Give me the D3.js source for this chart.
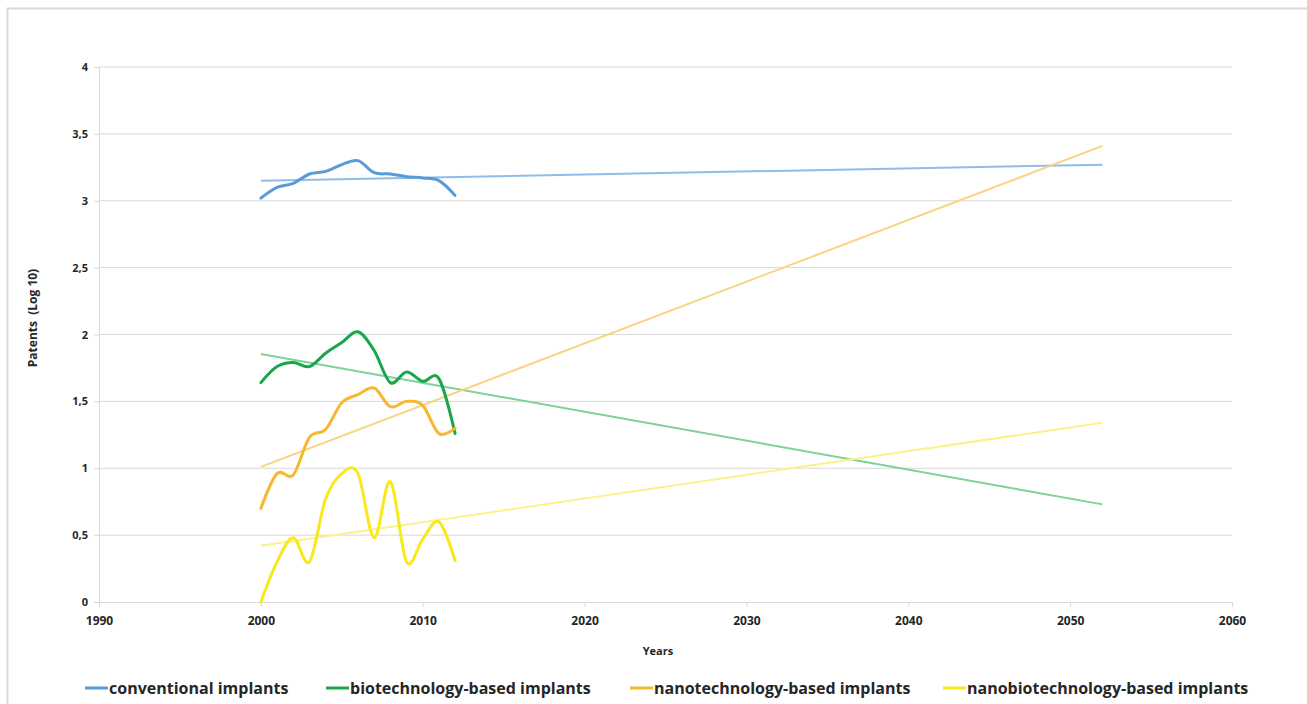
<!DOCTYPE html>
<html>
<head>
<meta charset="utf-8">
<script src="https://cdn.jsdelivr.net/npm/d3@7"></script>
<style>
  body { margin: 0; background: #fff; }
  text { font-family: "Open Sans", Lato, sans-serif; font-weight: bold; fill: #262626; }
</style>
</head>
<body>
<div id="chart"></div>
<script>
const years = [2000, 2001, 2002, 2003, 2004, 2005, 2006, 2007, 2008, 2009, 2010, 2011, 2012];
const conventional = [3.02, 3.10, 3.13, 3.20, 3.22, 3.27, 3.30, 3.21, 3.20, 3.18, 3.17, 3.15, 3.04];
const biotech = [1.64, 1.76, 1.79, 1.76, 1.86, 1.94, 2.02, 1.88, 1.64, 1.72, 1.65, 1.67, 1.26];
const nanotech = [0.70, 0.96, 0.95, 1.23, 1.29, 1.49, 1.55, 1.60, 1.46, 1.50, 1.47, 1.26, 1.30];
const nanobiotech = [0.00, 0.30, 0.48, 0.30, 0.77, 0.96, 0.96, 0.48, 0.90, 0.30, 0.47, 0.60, 0.31];
const trendYears = [2000, 2052];
const trendConventional = [3.15, 3.27];
const trendBiotech = [1.855, 0.73];
const trendNanotech = [1.01, 3.41];
const trendNanobiotech = [0.42, 1.34];
const seriesNames = ['conventional implants', 'biotechnology-based implants', 'nanotechnology-based implants', 'nanobiotechnology-based implants'];
const colors = ['#5b9bd5', '#1aa64a', '#f5b82e', '#f8e81c'];
const trendColors = ['#8fbde6', '#7fd19a', '#f9d483', '#fbf28a'];
const xTicks = [1990, 2000, 2010, 2020, 2030, 2040, 2050, 2060];
const yTicks = [0, 0.5, 1, 1.5, 2, 2.5, 3, 3.5, 4];

const width = 1307, height = 704;
const svg = d3.select('#chart').append('svg')
    .attr('width', width)
    .attr('height', height);

// chart frame
svg.append('path')
    .attr('d', `M7.5,${height} V8.5 H${width}`)
    .attr('fill', 'none')
    .attr('stroke', '#d9d9d9')
    .attr('stroke-width', 2);

const x = d3.scaleLinear().domain([1990, 2060]).range([99, 1232]);
const y = d3.scaleLinear().domain([0, 4]).range([602, 67]);

// gridlines
svg.append('g')
    .selectAll('line')
    .data(yTicks.filter(d => d > 0))
    .enter().append('line')
    .attr('x1', x(1990)).attr('x2', x(2060))
    .attr('y1', d => y(d)).attr('y2', d => y(d))
    .attr('stroke', '#d9d9d9')
    .attr('stroke-width', 1);

// axes
const fmt = d => String(d).replace('.', ',');
const yAxis = svg.append('g')
    .attr('transform', `translate(${x(1990)},0)`)
    .call(d3.axisLeft(y).tickValues(yTicks).tickFormat(fmt).tickSize(5).tickPadding(6));
yAxis.select('.domain').attr('stroke', '#d9d9d9');
yAxis.selectAll('.tick line').attr('stroke', '#d9d9d9');
yAxis.selectAll('text').style('font-size', '11px').attr('fill', '#262626');

const xAxis = svg.append('g')
    .attr('transform', `translate(0,${y(0)})`)
    .call(d3.axisBottom(x).tickValues(xTicks).tickFormat(d3.format('d')).tickSize(5).tickPadding(9));
xAxis.select('.domain').attr('stroke', '#d9d9d9');
xAxis.selectAll('.tick line').attr('stroke', '#d9d9d9');
xAxis.selectAll('text').style('font-size', '12px').attr('fill', '#262626');

svg.append('text')
    .attr('x', 658).attr('y', 655)
    .attr('text-anchor', 'middle')
    .style('font-size', '11px')
    .text('Years');

svg.append('text')
    .attr('transform', 'translate(37,318) rotate(-90)')
    .attr('text-anchor', 'middle')
    .style('font-size', '12px')
    .style('white-space', 'pre')
    .text('Patents  (Log 10)');

// trend lines
const trends = [trendConventional, trendBiotech, trendNanotech, trendNanobiotech];
const line = d3.line().x(d => x(d[0])).y(d => y(d[1]));
trends.forEach((t, i) => {
    svg.append('path')
        .datum(trendYears.map((yr, j) => [yr, t[j]]))
        .attr('d', line)
        .attr('fill', 'none')
        .attr('stroke', trendColors[i])
        .attr('stroke-width', 2);
});

// data series
const series = [conventional, biotech, nanotech, nanobiotech];
const smooth = d3.line().x(d => x(d[0])).y(d => y(d[1])).curve(d3.curveCardinal.tension(0));
series.forEach((s, i) => {
    svg.append('path')
        .datum(years.map((yr, j) => [yr, s[j]]))
        .attr('d', smooth)
        .attr('fill', 'none')
        .attr('stroke', colors[i])
        .attr('stroke-width', 3)
        .attr('stroke-linejoin', 'round')
        .attr('stroke-linecap', 'round');
});

// legend
const legendX = [85, 326, 630, 943];
const legend = svg.append('g')
    .selectAll('g')
    .data(seriesNames)
    .enter().append('g')
    .attr('transform', (d, i) => `translate(${legendX[i]},688)`);
legend.append('line')
    .attr('x1', 0).attr('x2', 23)
    .attr('stroke', (d, i) => colors[i])
    .attr('stroke-width', 3);
legend.append('text')
    .attr('x', 24).attr('dy', '0.35em')
    .style('font-size', '16px')
    .text(d => d);
</script>
</body>
</html>
